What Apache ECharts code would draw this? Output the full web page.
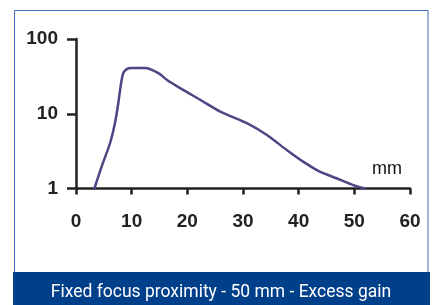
<!DOCTYPE html>
<html>
<head>
<meta charset="utf-8">
<script src="https://cdn.jsdelivr.net/npm/echarts@6/dist/echarts.min.js"></script>
<style>
html,body{margin:0;padding:0;background:#fff;}
#chart{width:438px;height:305px;}
</style>
</head>
<body>
<div id="chart"></div>
<script>
var xTicks = [0, 10, 20, 30, 40, 50, 60];
var yTicks = [1, 10, 100];
var distanceMm = [3.3, 4.6, 6.1, 7.0, 7.6, 8.1, 8.5, 9.1, 10.0, 12.4, 14.8, 16.3, 18.7, 22.3, 25.9, 30.7, 34.3, 37.85, 40.8, 43.8, 46.8, 49.8, 51.9];
var excessGain = [1.0, 1.96, 4.0, 7.5, 13.9, 25.7, 35, 39.6, 40.8, 40.8, 35, 28.5, 22, 15.4, 10.7, 7.5, 5.2, 3.28, 2.29, 1.68, 1.37, 1.11, 1.0];
var caption = 'Fixed focus proximity - 50 mm - Excess gain';
var xName = 'mm';

var points = distanceMm.map(function (d, i) { return [d, excessGain[i]]; });
var chart = echarts.init(document.getElementById('chart'), null, {renderer: 'canvas'});
chart.setOption({
  animation: false,
  backgroundColor: '#ffffff',
  grid: {left: 76, right: 28, top: 39, bottom: 116.5, containLabel: false},
  xAxis: {
    type: 'value', min: xTicks[0], max: xTicks[xTicks.length - 1], interval: 10,
    name: xName, nameLocation: 'end', nameGap: -38,
    nameTextStyle: {fontFamily: 'Liberation Sans', fontSize: 18, color: '#111', verticalAlign: 'bottom', padding: [0, 0, 10, 0]},
    splitLine: {show: false},
    axisLine: {show: true, lineStyle: {color: '#222', width: 2.5}, onZero: false},
    axisTick: {show: true, inside: false, length: 6, lineStyle: {color: '#222', width: 2.5}},
    axisLabel: {margin: 24, fontFamily: 'Liberation Sans', fontWeight: 'bold', fontSize: 19, color: '#222',
      formatter: function (v) { return xTicks.indexOf(v) >= 0 ? String(v) : ''; }}
  },
  yAxis: {
    type: 'log', logBase: 10, min: yTicks[0], max: yTicks[yTicks.length - 1],
    splitLine: {show: false},
    axisLine: {show: true, lineStyle: {color: '#222', width: 2.5}},
    axisTick: {show: true, length: 9, lineStyle: {color: '#222', width: 2.5}},
    axisLabel: {margin: 18, fontFamily: 'Liberation Sans', fontWeight: 'bold', fontSize: 19, color: '#222'}
  },
  series: [{
    type: 'line', data: points, showSymbol: false, smooth: 0.2,
    lineStyle: {color: '#4b4684', width: 2.5, cap: 'round', join: 'round'}
  }],
  graphic: [
    {type: 'rect', shape: {x: 14.5, y: 10.5, width: 413.5, height: 275}, style: {fill: 'none', stroke: '#3f6cb5', lineWidth: 1}, z: 100},
    {type: 'rect', shape: {x: 13, y: 272, width: 417, height: 33}, style: {fill: '#003f8a'}, z: 101},
    {type: 'text', x: 221, y: 293, style: {text: caption, fill: '#ffffff', font: '17.5px Roboto', textAlign: 'center', textVerticalAlign: 'middle'}, z: 102}
  ]
});
</script>
</body>
</html>
